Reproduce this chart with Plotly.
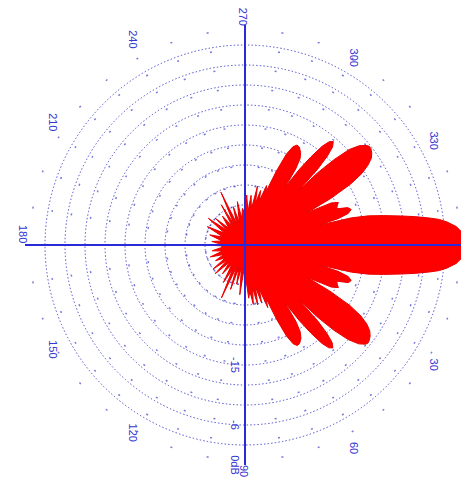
import plotly.graph_objects as go

# Radiation pattern outline (clockwise degrees, 0 = right) and gain in dB
theta_deg = [
    0, 2, 3.2, 5, 6.5, 7.5, 8.3, 9.5, 10.6, 12, 13.3, 14.3, 15,
    15.8, 17, 18.5, 20, 21.5, 23, 24.5, 26, 27.5,
    28.5, 30, 31.5, 33, 34.5, 36, 37.5, 38.5, 39.5, 41, 42.5, 43.8, 44.8, 45.5,
    46.2, 47.2, 48.2, 49.5, 50.8, 52, 53.2, 54.3, 55.3,
    56.3, 57.5, 59, 61, 62.5, 64, 65.5, 67, 68.5,
    70, 72, 74, 76, 78, 80, 82, 84, 86, 88, 90,
    92, 96, 99, 102, 105, 108, 111, 114, 117, 120, 124, 128, 132, 136, 140, 143,
    147, 152, 156, 161, 165, 170, 174, 178, 180, 182, 186, 190, 196, 200, 206,
    210, 216, 219, 222, 226, 232, 236, 239.5, 242, 245.5, 249, 253, 256, 260,
    263, 266, 269, 272, 275, 277, 280, 282, 284, 286, 288, 290, 291.5,
    293, 294.5, 296, 297.5, 299, 301, 302.5, 303.7, 304.7,
    305.7, 306.8, 308, 309.2, 310.5, 311.8, 312.8, 313.8, 314.5,
    315.2, 316.2, 317.5, 319, 320.5, 321.5, 322.5, 324, 325.5, 327, 328.5, 330, 331.5, 332.5,
    334, 335.5, 337, 338.5, 340, 341.5, 343, 344.2, 345,
    345.7, 346.7, 348, 349.4, 350.5, 351.7, 352.5, 353.5, 355, 356.8, 358, 360,
]
gain_db = [
    0.0, -0.1, -0.3, -1.2, -2.5, -3.6, -5.0, -7.2, -9.3, -11.8, -14.0, -16.5, -21.5,
    -18.5, -16.8, -16.2, -16.5, -18.2, -18.0, -17.6, -18.6, -22.5,
    -18.5, -14.8, -12.6, -11.2, -10.3, -9.8, -9.5, -9.4, -9.6, -10.4, -12.0, -14.5, -17.5, -21.5,
    -17.3, -14.9, -13.4, -12.7, -13.1, -14.3, -16.5, -19.0, -22.5,
    -19.3, -17.6, -16.7, -16.1, -16.0, -16.5, -18.0, -21.0, -24.5,
    -23.0, -26.0, -24.0, -26.5, -23.8, -26.5, -24.0, -26.0, -25.0, -27.5, -27.0,
    -29.5, -25.5, -29.5, -27.0, -29.5, -26.0, -29.5, -24.3, -29.0, -26.5, -29.5, -27.5, -29.5, -26.8, -29.5, -27.0,
    -29.5, -28.0, -29.5, -27.5, -29.5, -28.0, -29.5, -29.5, -26.2, -29.5, -28.0, -29.5, -27.5, -29.5, -26.7,
    -29.5, -26.2, -29.5, -27.0, -29.5, -27.5, -29.5, -26.0, -29.5, -24.3, -29.5, -27.0, -29.5, -26.4,
    -29.0, -27.5, -28.0, -25.5, -28.0, -25.5, -27.5, -24.0, -26.5, -24.5, -26.0, -23.5, -24.5,
    -21.0, -18.0, -16.6, -16.1, -16.2, -16.8, -17.6, -19.3, -22.5,
    -19.0, -16.5, -14.2, -13.0, -12.6, -13.3, -14.8, -17.3, -21.5,
    -17.5, -14.5, -11.8, -10.3, -9.5, -9.2, -9.2, -9.5, -10.0, -11.0, -12.4, -14.7, -18.3, -22.5,
    -18.6, -17.6, -18.0, -18.2, -16.6, -16.2, -16.8, -18.5, -21.5,
    -16.5, -14.0, -11.8, -9.3, -7.2, -5.0, -3.6, -2.5, -1.2, -0.3, -0.1, 0.0,
]

radial_ticks = [-30, -27, -24, -21, -18, -15, -12, -9, -6, -3, 0]
radial_labels = ["", "", "", "", "", "-15", "", "", "-6", "", "0dB"]
radial_range = [-33, 0]

angle_ticks = [0, 10, 20, 30, 40, 50, 60, 70, 80, 90, 100, 110, 120, 130, 140, 150,
               160, 170, 180, 190, 200, 210, 220, 230, 240, 250, 260, 270, 280, 290,
               300, 310, 320, 330, 340, 350]
angle_labels = ["", "", "", "30", "", "", "60", "", "", "90", "", "", "120", "", "",
                "150", "", "", "180", "", "", "210", "", "", "240", "", "", "270",
                "", "", "300", "", "", "330", "", ""]
cross_ticks = [0, 90, 180, 270]

blue = "#3535d0"
fig = go.Figure()
fig.add_trace(go.Scatterpolar(
    r=gain_db, theta=theta_deg, mode="lines", fill="toself",
    fillcolor="#ff0000", line=dict(color="#e80000", width=1),
    subplot="polar", showlegend=False, hoverinfo="skip"))
fig.add_trace(go.Scatterpolar(r=[], theta=[], subplot="polar2", showlegend=False))

dom = dict(x=[0, 1], y=[0, 1])
fig.update_layout(
    width=469, height=488,
    margin=dict(l=17, r=12, t=17, b=31),
    paper_bgcolor="white",
    showlegend=False,
    polar=dict(
        domain=dom, bgcolor="white",
        angularaxis=dict(
            rotation=0, direction="clockwise",
            tickmode="array", tickvals=angle_ticks, ticktext=angle_labels,
            tickangle=90, ticks="",
            tickfont=dict(color=blue, size=11, family="Liberation Sans"),
            showline=False, gridcolor="#7a7ad8", griddash="1.5px,18px", gridwidth=1.6,
            layer="above traces"),
        radialaxis=dict(
            range=radial_range, tickmode="array", tickvals=radial_ticks,
            ticktext=radial_labels, angle=-90, tickangle=0, ticks="",
            tickfont=dict(color=blue, size=11, family="Liberation Sans"),
            showline=True, linecolor="#2a2ad8", linewidth=2,
            gridcolor="#4a4ad0", griddash="1.4px,2.2px", gridwidth=1.4,
            layer="above traces"),
    ),
    polar2=dict(
        domain=dom, bgcolor="rgba(0,0,0,0)",
        angularaxis=dict(
            rotation=0, direction="clockwise",
            tickmode="array", tickvals=cross_ticks, showticklabels=False, ticks="",
            showline=False, gridcolor="#2a2ad8", gridwidth=2),
        radialaxis=dict(range=radial_range, visible=False, showgrid=False),
    ),
)
fig.write_html("out.html")
